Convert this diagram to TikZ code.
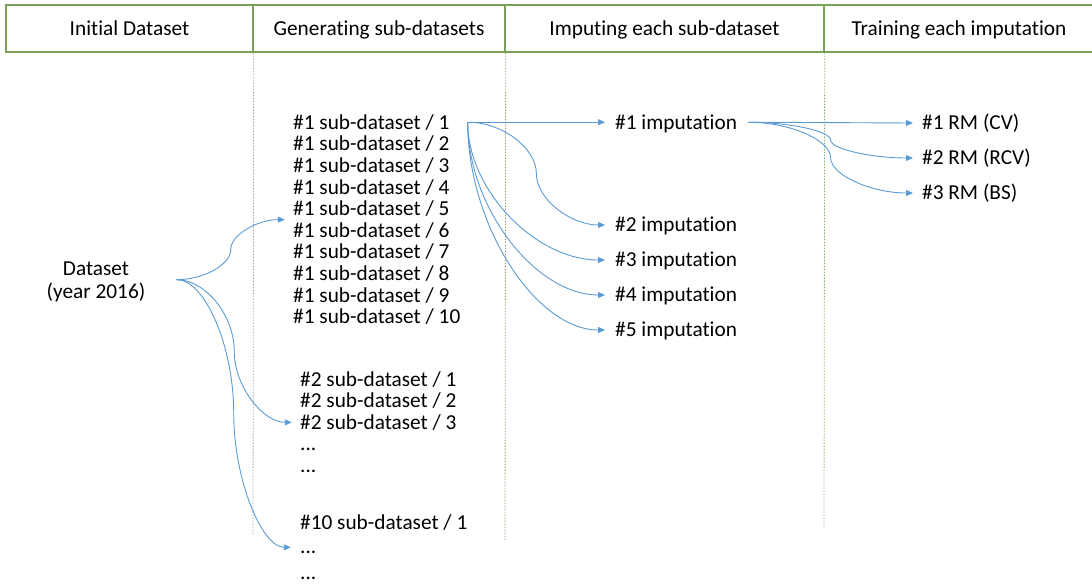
\documentclass[tikz,border=0pt]{standalone}
\usepackage{fontspec}
\setmainfont{Carlito}[Ligatures={NoCommon}]
\usetikzlibrary{calc,fit,arrows.meta}
\definecolor{hdrgreen}{RGB}{122,160,86}
\definecolor{arrowblue}{RGB}{91,155,213}
\definecolor{sepgray}{RGB}{160,160,160}
\definecolor{sepolive}{RGB}{150,150,110}
\definecolor{sepgreen}{RGB}{130,170,100}
\newcommand{\elbowconn}[2]{%
  \coordinate (cm) at ($(#1)!0.5!(#2)$);
  \coordinate (q1) at ($(#1)!0.5!(cm)$);
  \coordinate (q2) at ($(cm)!0.5!(#2)$);
  \coordinate (k1) at (cm |- #1);
  \coordinate (k2) at (cm |- #2);
  \draw[conn] (#1) .. controls ($(#1)!0.5!(k1)$) and (cm |- q1) .. (cm)
    .. controls (cm |- q2) and ($(#2)!0.5!(k2)$) .. (#2);
}
\newcommand{\downconn}[2]{%
  \coordinate (cm) at ($(#1)!0.5!(#2)$);
  \draw[conn] (#1) .. controls (#1 |- cm) and (cm |- #2) .. (#2);
}
\begin{document}
\begin{tikzpicture}[x=1pt,y=-1pt,
  lbl/.style={font=\fontsize{21.3}{25}\selectfont, inner sep=0pt, text height=13.7pt, text depth=0pt, anchor=west},
  cell/.style={draw=hdrgreen, line width=1.4pt, font=\fontsize{21.3}{25}\selectfont, inner sep=0pt, text height=13.7pt, text depth=0pt, minimum height=47pt},
  vsep/.style={line width=0.8pt, dash pattern=on 1.5pt off 1.5pt},
  conn/.style={draw=arrowblue, line width=0.9pt, -{Triangle[length=7pt,width=6pt]}},
  grp/.style={inner sep=0pt}
]
\useasboundingbox (0,0) rectangle (1092,584);

% header
\node[cell, minimum width=247pt] (c1) at (129.5,28.5) {Initial Dataset};
\node[cell, minimum width=252pt] (c2) at (379,28.5) {Generating sub-datasets};
\node[cell, minimum width=319pt] (c3) at (664.5,28.5) {Imputing each sub-dataset};
\node[cell, minimum width=270pt] (c4) at (959,28.5) {Training each imputation};

% separators
\coordinate (d1) at (253,535);
\coordinate (d2) at (505,540);
\coordinate (d3) at (824,530);
\draw[vsep, draw=sepgray] (c1.south east) -- (d1);
\draw[vsep, draw=sepolive] (c2.south east) -- (d2);
\draw[vsep, draw=sepgreen] (c3.south east) -- (d3);

% dataset
\node[lbl, anchor=base] (ds1) at (96,275) {Dataset};
\node[lbl, anchor=base] (ds2) at (96,298) {(year 2016)};
\node[grp, fit=(ds1)(ds2)] (dsg) {};
\coordinate (dsout) at ([xshift=31pt]dsg.east);

% #1 sub-datasets
\foreach \k in {1,...,10}{
  \node[lbl] (s\k) at (293,{122.2+21.65*(\k-1)}) {\#1 sub-dataset / \k};
}
\node[grp, fit=(s1)(s10)] (g1) {};
\coordinate (g1in) at ([xshift=-8pt]g1.west);

% #2 sub-datasets
\node[lbl] (t1) at (300,379.15) {\#2 sub-dataset / 1};
\node[lbl] (t2) at (300,400.75) {\#2 sub-dataset / 2};
\node[lbl] (t3) at (300,422.35) {\#2 sub-dataset / 3};
\node[lbl] (t4) at (300,443.95) {...};
\node[lbl] (t5) at (300,465.55) {...};
\node[grp, fit=(t1)(t5)] (g2) {};
\coordinate (g2in) at ([xshift=-8pt]g2.west);

% #10 sub-datasets
\node[lbl] (u1) at (300,522.15) {\#10 sub-dataset / 1};
\node[lbl] (u2) at (300,546.15) {...};
\node[lbl] (u3) at (300,572.5) {...};
\node[grp, fit=(u1)(u3)] (g3) {};
\coordinate (g3in) at ([xshift=-9pt]g3.west);

% imputations
\node[lbl] (imp1) at (615,122.2) {\#1 imputation};
\node[lbl] (imp2) at (615,225) {\#2 imputation};
\node[lbl] (imp3) at (615,260) {\#3 imputation};
\node[lbl] (imp4) at (615,295) {\#4 imputation};
\node[lbl] (imp5) at (615,330) {\#5 imputation};
\foreach \k in {1,...,5}{
  \coordinate (impin\k) at ([xshift=-10pt]imp\k.west);
}

% RMs
\node[lbl] (rm1) at (922,123) {\#1 RM (CV)};
\node[lbl] (rm2) at (922,158) {\#2 RM (RCV)};
\node[lbl] (rm3) at (922,193) {\#3 RM (BS)};
\foreach \k in {1,2,3}{
  \coordinate (rmin\k) at ([xshift=-9pt]rm\k.west);
}

\coordinate (s1out) at ([xshift=18pt]s1.east);
\coordinate (imp1out) at ([xshift=11pt]imp1.east);

% connectors
\elbowconn{dsout}{g1in}
\elbowconn{dsout}{g2in}
\elbowconn{dsout}{g3in}
\draw[conn] (s1out) -- (impin1);
\elbowconn{s1out}{impin2}
\downconn{s1out}{impin3}
\downconn{s1out}{impin4}
\downconn{s1out}{impin5}
\draw[conn] (imp1out) -- (rmin1);
\elbowconn{imp1out}{rmin2}
\elbowconn{imp1out}{rmin3}
\end{tikzpicture}
\end{document}
